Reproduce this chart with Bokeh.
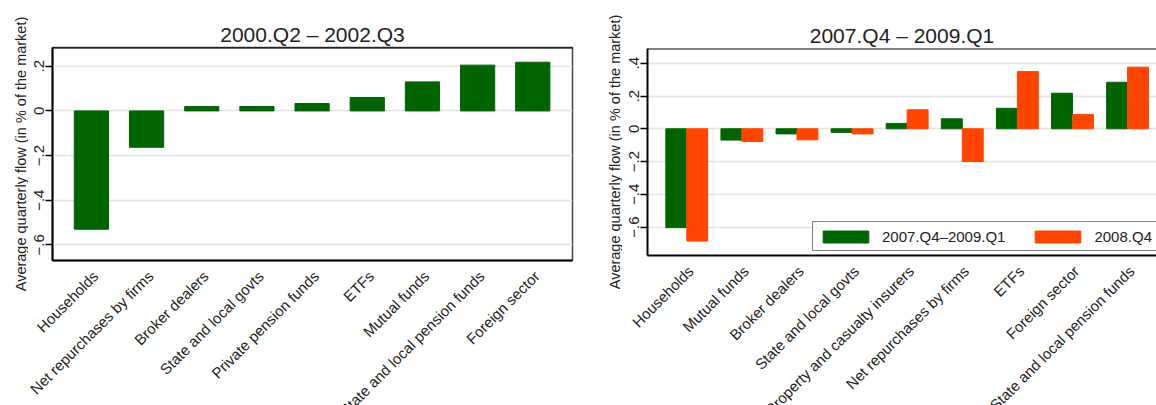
import math

from bokeh.core.properties import value
from bokeh.embed import file_html
from bokeh.layouts import column, row
from bokeh.models import (ColumnDataSource, CustomJSTickFormatter, FixedTicker,
                          Legend, LegendItem, Range1d, Span)
from bokeh.plotting import figure
from bokeh.resources import INLINE
from bokeh.transform import dodge

# Panel A: 2000.Q2 - 2002.Q3
sectors_a = ["Households", "Net repurchases by firms", "Broker dealers",
             "State and local govts", "Private pension funds", "ETFs",
             "Mutual funds", "State and local pension funds", "Foreign sector"]
flow_a = [-0.53, -0.163, 0.02, 0.02, 0.033, 0.06, 0.13, 0.205, 0.218]

# Panel B: 2007.Q4 - 2009.Q1, with 2008.Q4 alongside
sectors_b = ["Households", "Mutual funds", "Broker dealers",
             "State and local govts", "Property and casualty insurers",
             "Net repurchases by firms", "ETFs", "Foreign sector",
             "State and local pension funds"]
flow_crisis = [-0.603, -0.069, -0.031, -0.022, 0.033, 0.061, 0.125, 0.217, 0.284]
flow_2008q4 = [-0.685, -0.077, -0.067, -0.031, 0.116, -0.2, 0.349, 0.088, 0.376]

ticks_a = [-0.6, -0.4, -0.2, 0, 0.2]
ticks_b = [-0.6, -0.4, -0.2, 0, 0.2, 0.4]

GREEN = "#006400"
ORANGE = "#ff4500"
FONT = "Liberation Sans"
INK = "#222222"
Y_LABEL = "Average quarterly flow (in % of the market)"
HEIGHT = 405

stata_fmt = CustomJSTickFormatter(code="""
    if (Math.abs(tick) < 1e-9) return "0";
    const s = Math.abs(tick).toFixed(1).replace(/^0/, "");
    return (tick < 0 ? "\u2212" : "") + s;
""")


def blank(width, height, x_range, y_range):
    q = figure(width=width, height=height, x_range=x_range, y_range=y_range,
               output_backend="svg", toolbar_location=None,
               x_axis_location=None, y_axis_location=None,
               min_border_left=0, min_border_right=0,
               min_border_top=0, min_border_bottom=0,
               background_fill_color="white", border_fill_color="white")
    q.frame_align = False
    q.grid.visible = False
    q.outline_line_color = None
    return q


def y_title(width, cx, cy):
    # vertical axis title, centred on the panel's plotting box
    q = blank(width, HEIGHT, Range1d(0, width), Range1d(0, HEIGHT))
    q.text(x=[cx], y=[HEIGHT - cy], text=[Y_LABEL], angle=math.pi / 2,
           text_align="center", text_baseline="middle",
           text_font=value(FONT), text_font_size="14.5px", text_color=INK)
    return q


def panel(title, width, height, x_range, y_range, yticks,
          border_left, border_right, border_top, right_edge):
    p = figure(width=width, height=height, x_range=x_range, y_range=y_range,
               output_backend="svg", toolbar_location=None,
               min_border_left=border_left, min_border_right=border_right,
               min_border_top=border_top, min_border_bottom=3,
               background_fill_color="white", border_fill_color="white")
    p.frame_align = False
    p.title.text = title
    p.title.align = "center"
    p.title.text_font = FONT
    p.title.text_font_size = "21px"
    p.title.text_font_style = "normal"
    p.title.text_color = INK
    p.title.standoff = 3

    if right_edge:
        p.outline_line_color = "#444444"
        p.outline_line_width = 1.5
    else:
        p.outline_line_color = None
    p.add_layout(Span(location=y_range.end, dimension="width",
                      line_color="black", line_width=2))

    p.xgrid.visible = False
    p.ygrid.ticker = FixedTicker(ticks=yticks)
    p.ygrid.grid_line_color = "#e4e4e4"
    p.ygrid.grid_line_width = 1.5

    ya = p.yaxis[0]
    ya.ticker = FixedTicker(ticks=yticks)
    ya.formatter = stata_fmt
    ya.major_label_orientation = "vertical"
    ya.major_label_text_font = FONT
    ya.major_label_text_font_size = "15px"
    ya.major_label_text_color = INK
    ya.major_label_standoff = 1
    ya.major_tick_out = 7
    ya.major_tick_in = 0
    ya.major_tick_line_width = 1.5
    ya.minor_tick_out = 0
    ya.minor_tick_in = 0
    ya.axis_line_width = 2
    ya.axis_line_color = "black"

    xa = p.xaxis[0]
    xa.ticker = FixedTicker(ticks=[])
    xa.major_tick_out = 0
    xa.major_tick_in = 0
    xa.minor_tick_out = 0
    xa.minor_tick_in = 0
    xa.axis_line_width = 2
    xa.axis_line_color = "black"
    return p


def name_strip(width, height, x_range, labels, drop):
    # strip under a panel holding its rotated category names
    q = blank(width, height, x_range, Range1d(0, height))
    src = ColumnDataSource(dict(x=list(range(len(labels))),
                                y=[height - drop] * len(labels), name=labels))
    q.text(x="x", y="y", text="name", source=src, angle=math.pi / 4,
           x_offset=4, text_align="right", text_baseline="middle",
           text_font=value(FONT), text_font_size="15px", text_color=INK)
    return q


def strip_range(start, end, width, border_left, border_right):
    # same data-to-pixel scale as the panel, widened over its borders
    unit = (end - start) / (width - border_left - border_right)
    return Range1d(start - border_left * unit, end + border_right * unit)


# Left panel
W1, L1, R1, T1, H1 = 562, 24, 18, 47, 263
xa_start, xa_end = -0.705, 8.72
src_a = ColumnDataSource(dict(x=list(range(len(sectors_a))), flow=flow_a))
p1 = panel("2000.Q2 \u2013 2002.Q3", W1, H1, Range1d(xa_start, xa_end),
           Range1d(-0.67, 0.284), ticks_a, L1, R1, T1, True)
p1.vbar(x="x", top="flow", bottom=0, width=0.62, source=src_a,
        fill_color=GREEN, line_color=GREEN, line_width=1)
q1 = name_strip(W1, HEIGHT - H1, strip_range(xa_start, xa_end, W1, L1, R1),
                sectors_a, 10)
t1 = y_title(28, 20, (T1 + H1 - 3) / 2)

# Right panel
W2, L2, R2, T2, H2 = 534, 25, 0, 48, 258
xb_start, xb_end = -0.713, 8.525
src_b = ColumnDataSource(dict(x=list(range(len(sectors_b))),
                              crisis=flow_crisis, q4=flow_2008q4))
x_b = Range1d(xb_start, xb_end)
p2 = panel("2007.Q4 \u2013 2009.Q1", W2, H2, x_b, Range1d(-0.773, 0.49),
           ticks_b, L2, R2, T2, False)
p2.title.offset = 5
r_crisis = p2.vbar(x=dodge("x", -0.19, range=x_b), top="crisis", bottom=0,
                   width=0.38, source=src_b, fill_color=GREEN, line_color=GREEN)
r_q4 = p2.vbar(x=dodge("x", 0.19, range=x_b), top="q4", bottom=0,
               width=0.38, source=src_b, fill_color=ORANGE, line_color=ORANGE)

legend = Legend(items=[LegendItem(label="2007.Q4\u20132009.Q1", renderers=[r_crisis]),
                       LegendItem(label="2008.Q4", renderers=[r_q4])],
                orientation="horizontal", location=(165, 4),
                border_line_color="black", border_line_width=1.5,
                background_fill_color="white", background_fill_alpha=1,
                padding=4, margin=0, spacing=24, label_standoff=8,
                glyph_width=57, glyph_height=15, label_height=20,
                label_text_font=FONT, label_text_font_size="15px",
                label_text_color=INK)
p2.add_layout(legend)
q2 = name_strip(W2, HEIGHT - H2, strip_range(xb_start, xb_end, W2, L2, R2),
                sectors_b, 10)
t2 = y_title(32, 24, (T2 + H2 - 3) / 2)

layout = row(t1, column(p1, q1), t2, column(p2, q2))
open("out.html", "w").write(file_html(layout, INLINE))
